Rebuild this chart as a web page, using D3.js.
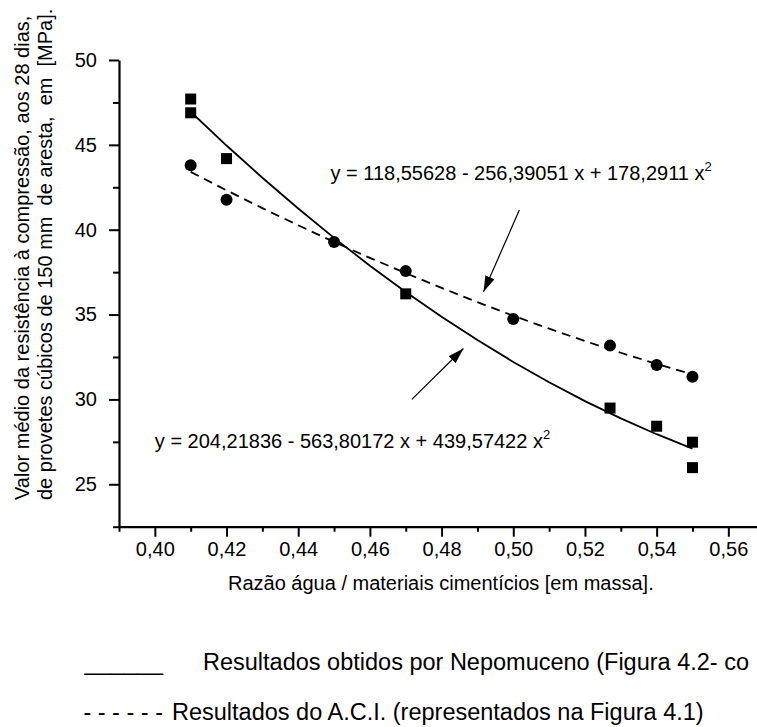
<!DOCTYPE html>
<html>
<head>
<meta charset="utf-8">
<script src="https://cdn.jsdelivr.net/npm/d3@7"></script>
<style>
  html, body { margin: 0; padding: 0; background: #fff; }
  svg { display: block; font-family: "Liberation Sans", Arial, sans-serif; }
  .pre { white-space: pre; }
</style>
</head>
<body>
<svg id="chart"></svg>
<script>
// measured points, Nepomuceno (squares)
const nepX = [0.41, 0.41, 0.42, 0.47, 0.527, 0.54, 0.55, 0.55];
const nepY = [47.70, 46.89, 44.19, 36.22, 29.49, 28.42, 27.48, 25.98];

// A.C.I. results (circles)
const aciX = [0.41, 0.42, 0.45, 0.47, 0.50, 0.527, 0.54, 0.55];
const aciY = [43.80, 41.77, 39.27, 37.56, 34.74, 33.17, 32.03, 31.34];

// fitted curves
const curveX = [0.41, 0.42, 0.43, 0.44, 0.45, 0.46, 0.47, 0.48, 0.49, 0.50, 0.51, 0.52, 0.53, 0.54, 0.55];
const nepCurveY = [46.95, 44.96, 43.06, 41.25, 39.52, 37.88, 36.33, 34.87, 33.50, 32.21, 31.01, 29.90, 28.88, 27.95, 27.10];
const aciCurveY = [43.41, 42.32, 41.27, 40.26, 39.28, 38.34, 37.44, 36.57, 35.73, 34.93, 34.17, 33.44, 32.75, 32.09, 31.47];

const xTicks = [0.40, 0.42, 0.44, 0.46, 0.48, 0.50, 0.52, 0.54, 0.56];
const xMinorTicks = [0.39, 0.41, 0.43, 0.45, 0.47, 0.49, 0.51, 0.53, 0.55];
const yTicks = [25, 30, 35, 40, 45, 50];
const yMinorTicks = [22.5, 27.5, 32.5, 37.5, 42.5, 47.5];

const xTitle = "Razão água / materiais cimentícios [em massa].";
const yTitleLines = [
  "Valor médio da resistência à compressão, aos 28 dias,",
  "de provetes cúbicos de 150 mm  de aresta,  em  [MPa]."
];
const equations = [
  { text: "y = 118,55628 - 256,39051 x + 178,2911 x", x: 0.449, y: 42.92 },
  { text: "y = 204,21836 - 563,80172 x + 439,57422 x", x: 0.400, y: 27.12 }
];
const arrows = [
  { from: [0.5017, 41.16], to: [0.4917, 36.34] },
  { from: [0.4717, 30.0], to: [0.4861, 33.0] }
];
const legendItems = [
  { sym: "______", label: "Resultados obtidos por Nepomuceno (Figura 4.2- co" },
  { sym: "- - - - - -", label: "Resultados do A.C.I. (representados na Figura 4.1)" }
];

const config = {
  width: 757,
  height: 727,
  xRange: [119, 757],
  yRange: [526.7, 60],
  xDomain: [0.39, 0.568],
  yDomain: [22.5, 50],
  fontSize: 20,
  legendFontSize: 23.5
};

const ptLocale = d3.formatLocale({ decimal: ",", thousands: ".", grouping: [3], currency: ["", ""] });

const svg = d3.select("#chart")
  .attr("width", config.width)
  .attr("height", config.height);

const x = d3.scaleLinear().domain(config.xDomain).range(config.xRange);
const y = d3.scaleLinear().domain(config.yDomain).range(config.yRange);

function drawAxes() {
  const xAxisY = config.yRange[0];
  const yAxisX = config.xRange[0];

  // minor ticks first, then major ticks with labels
  svg.append("g")
    .attr("transform", `translate(0,${xAxisY})`)
    .call(d3.axisBottom(x).tickValues(xMinorTicks).tickSize(5).tickFormat(""))
    .call(g => g.select(".domain").remove())
    .call(g => g.selectAll("line").attr("stroke-width", 2));

  svg.append("g")
    .attr("transform", `translate(0,${xAxisY})`)
    .call(d3.axisBottom(x).tickValues(xTicks).tickSize(10).tickPadding(5).tickSizeOuter(0)
      .tickFormat(ptLocale.format(".2f")))
    .call(g => g.select(".domain").attr("stroke-width", 2.2))
    .call(g => g.selectAll("line").attr("stroke-width", 2))
    .call(g => g.selectAll("text").attr("font-size", config.fontSize).attr("font-family", null));

  svg.append("g")
    .attr("transform", `translate(${yAxisX},0)`)
    .call(d3.axisLeft(y).tickValues(yMinorTicks).tickSize(6).tickFormat(""))
    .call(g => g.select(".domain").remove())
    .call(g => g.selectAll("line").attr("stroke-width", 2));

  svg.append("g")
    .attr("transform", `translate(${yAxisX},0)`)
    .call(d3.axisLeft(y).tickValues(yTicks).tickSize(10).tickPadding(12).tickSizeOuter(0))
    .call(g => g.select(".domain").attr("stroke-width", 2.2))
    .call(g => g.selectAll("line").attr("stroke-width", 2))
    .call(g => g.selectAll("text").attr("font-size", config.fontSize).attr("font-family", null));

  svg.append("text")
    .attr("x", 228)
    .attr("y", 590)
    .attr("font-size", config.fontSize)
    .text(xTitle);

  const yTitle = svg.append("text")
    .attr("transform", "rotate(-90)")
    .attr("font-size", config.fontSize)
    .attr("class", "pre");
  yTitle.selectAll("tspan")
    .data(yTitleLines)
    .enter()
    .append("tspan")
    .attr("x", -500)
    .attr("y", (d, i) => 29 + i * 23)
    .text(d => d);
}

function drawSeries() {
  const line = d3.line()
    .x(d => x(d[0]))
    .y(d => y(d[1]));

  svg.append("path")
    .datum(curveX.map((v, i) => [v, nepCurveY[i]]))
    .attr("d", line)
    .attr("fill", "none")
    .attr("stroke", "#000")
    .attr("stroke-width", 1.8);

  svg.append("path")
    .datum(curveX.map((v, i) => [v, aciCurveY[i]]))
    .attr("d", line)
    .attr("fill", "none")
    .attr("stroke", "#000")
    .attr("stroke-width", 1.8)
    .attr("stroke-dasharray", "9,6");

  const side = 11;
  svg.selectAll(".sq")
    .data(nepX.map((v, i) => [v, nepY[i]]))
    .enter()
    .append("rect")
    .attr("class", "sq")
    .attr("x", d => x(d[0]) - side / 2)
    .attr("y", d => y(d[1]) - side / 2)
    .attr("width", side)
    .attr("height", side)
    .attr("fill", "#000");

  svg.selectAll(".dot")
    .data(aciX.map((v, i) => [v, aciY[i]]))
    .enter()
    .append("circle")
    .attr("class", "dot")
    .attr("cx", d => x(d[0]))
    .attr("cy", d => y(d[1]))
    .attr("r", 6)
    .attr("fill", "#000");
}

function drawAnnotations() {
  svg.append("defs").append("marker")
    .attr("id", "arrow")
    .attr("viewBox", "0 0 16 10")
    .attr("refX", 16)
    .attr("refY", 5)
    .attr("markerUnits", "userSpaceOnUse")
    .attr("markerWidth", 16)
    .attr("markerHeight", 10)
    .attr("orient", "auto")
    .append("path")
    .attr("d", "M0,0 L16,5 L0,10 Z")
    .attr("fill", "#000");

  svg.selectAll(".arrow")
    .data(arrows)
    .enter()
    .append("line")
    .attr("class", "arrow")
    .attr("x1", d => x(d.from[0]))
    .attr("y1", d => y(d.from[1]))
    .attr("x2", d => x(d.to[0]))
    .attr("y2", d => y(d.to[1]))
    .attr("stroke", "#000")
    .attr("stroke-width", 1.2)
    .attr("marker-end", "url(#arrow)");

  const eq = svg.selectAll(".eq")
    .data(equations)
    .enter()
    .append("text")
    .attr("class", "eq")
    .attr("x", d => x(d.x))
    .attr("y", d => y(d.y))
    .attr("font-size", config.fontSize);
  eq.append("tspan").text(d => d.text);
  eq.append("tspan")
    .attr("dy", -9)
    .attr("font-size", 13)
    .text("2");
}

function drawLegend() {
  const rows = svg.selectAll(".legend-row")
    .data(legendItems)
    .enter()
    .append("g")
    .attr("class", "legend-row")
    .attr("font-size", config.legendFontSize);

  rows.append("text")
    .attr("class", "pre")
    .attr("x", 163)
    .attr("y", (d, i) => 670 + i * 50)
    .attr("text-anchor", "end")
    .text(d => d.sym);

  rows.append("text")
    .attr("x", (d, i) => i === 0 ? 203 : 172)
    .attr("y", (d, i) => 670 + i * 50)
    .text(d => d.label);
}

drawAxes();
drawSeries();
drawAnnotations();
drawLegend();
</script>
</body>
</html>
